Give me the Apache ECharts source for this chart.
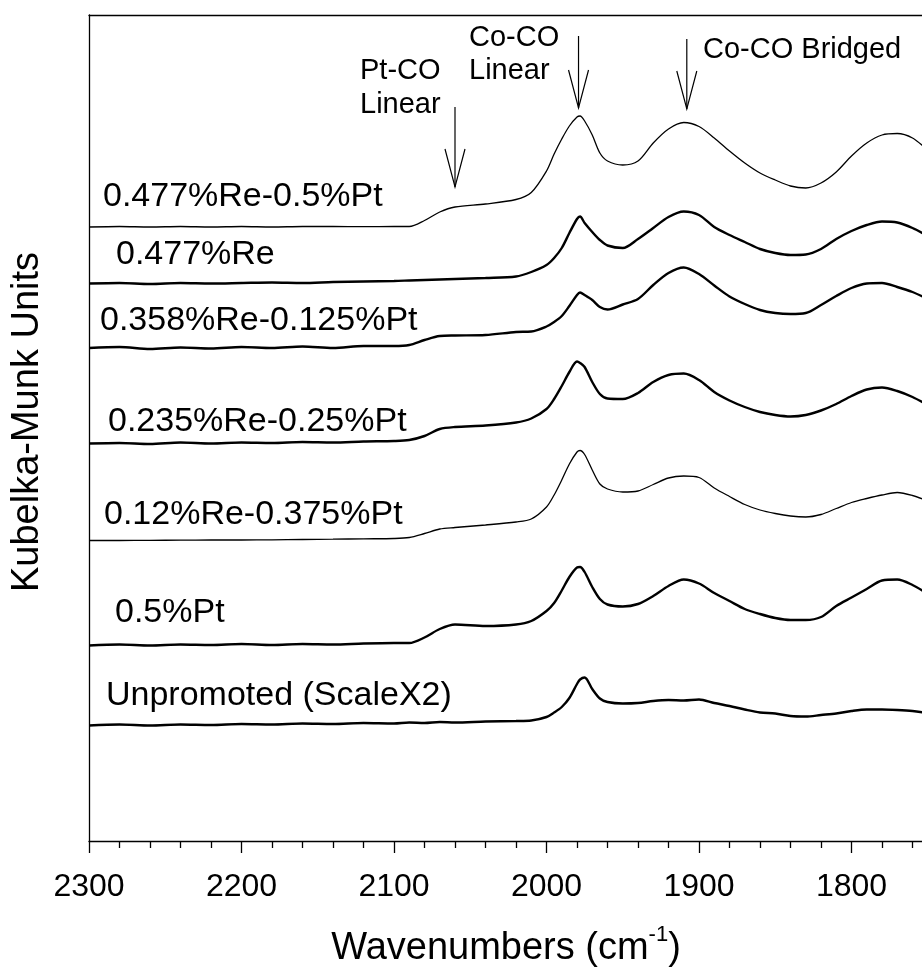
<!DOCTYPE html>
<html>
<head>
<meta charset="utf-8">
<script src="https://cdn.jsdelivr.net/npm/echarts@6/dist/echarts.min.js"></script>
<style>
  html, body { margin: 0; padding: 0; background: #fff; }
  #chart { width: 922px; height: 969px; }
</style>
</head>
<body>
<div id="chart"></div>
<script>
// Wavenumber grid (cm-1) shared by all spectra
const wavenumbers = [2300, 2280, 2260, 2240, 2220, 2200, 2180, 2160, 2140, 2120, 2100,
  2090, 2080, 2070, 2060, 2040, 2020, 2010,
  2000, 1995, 1990, 1985, 1980, 1978, 1975, 1970, 1965, 1960,
  1950, 1940, 1930, 1920, 1910, 1900, 1890, 1880, 1870, 1860, 1850, 1840, 1830, 1820,
  1810, 1800, 1790, 1780, 1770, 1760, 1750];

// Offset Kubelka-Munk spectra, top to bottom
const km_Re0477_Pt05 = [6.14, 6.145, 6.14, 6.145, 6.14, 6.145, 6.14, 6.145, 6.145, 6.143, 6.145,
  6.145, 6.205, 6.29, 6.34, 6.37, 6.415, 6.485,
  6.70, 6.87, 7.02, 7.15, 7.24, 7.25, 7.20, 7.06, 6.88, 6.80,
  6.76, 6.80, 6.98, 7.12, 7.185, 7.145, 7.03, 6.90, 6.78, 6.68, 6.61, 6.55, 6.53, 6.58,
  6.69, 6.85, 6.98, 7.06, 7.075, 7.03, 6.91];
const km_Re0477 = [5.575, 5.58, 5.57, 5.58, 5.575, 5.58, 5.585, 5.58, 5.59, 5.595, 5.60,
  5.605, 5.61, 5.615, 5.62, 5.63, 5.645, 5.69,
  5.76, 5.83, 5.93, 6.08, 6.22, 6.245, 6.18, 6.09, 6.01, 5.955,
  5.93, 6.02, 6.13, 6.24, 6.295, 6.26, 6.14, 6.06, 5.99, 5.92, 5.88, 5.86, 5.865, 5.92,
  6.02, 6.10, 6.16, 6.195, 6.185, 6.13, 6.05];
const km_Re0358_Pt0125 = [4.93, 4.94, 4.92, 4.935, 4.925, 4.94, 4.93, 4.945, 4.93, 4.95, 4.95,
  4.96, 5.01, 5.05, 5.055, 5.06, 5.09, 5.095,
  5.145, 5.19, 5.25, 5.35, 5.46, 5.485, 5.46, 5.41, 5.34, 5.315,
  5.365, 5.42, 5.56, 5.68, 5.735, 5.67, 5.555, 5.445, 5.37, 5.31, 5.28, 5.27, 5.28, 5.36,
  5.45, 5.53, 5.575, 5.58, 5.54, 5.49, 5.42];
const km_Re0235_Pt025 = [3.975, 3.98, 3.97, 3.985, 3.975, 3.985, 3.98, 3.99, 3.985, 3.995, 4.00,
  4.01, 4.05, 4.12, 4.14, 4.155, 4.185, 4.225,
  4.32, 4.42, 4.55, 4.69, 4.795, 4.78, 4.74, 4.59, 4.47, 4.425,
  4.42, 4.48, 4.59, 4.66, 4.675, 4.61, 4.49, 4.405, 4.34, 4.29, 4.26, 4.245, 4.26, 4.305,
  4.37, 4.45, 4.515, 4.535, 4.50, 4.44, 4.36];
const km_Re012_Pt0375 = [3.005, 3.005, 3.007, 3.008, 3.01, 3.01, 3.012, 3.015, 3.018, 3.022, 3.025,
  3.035, 3.075, 3.12, 3.135, 3.16, 3.19, 3.22,
  3.34, 3.46, 3.61, 3.77, 3.89, 3.905, 3.865, 3.71, 3.57, 3.52,
  3.49, 3.50, 3.565, 3.63, 3.65, 3.635, 3.53, 3.445, 3.365, 3.31, 3.275, 3.25, 3.24, 3.265,
  3.325, 3.385, 3.425, 3.46, 3.485, 3.455, 3.40];
const km_Pt05 = [1.955, 1.965, 1.955, 1.965, 1.96, 1.97, 1.96, 1.97, 1.965, 1.975, 1.98,
  1.98, 2.035, 2.12, 2.165, 2.15, 2.165, 2.20,
  2.30, 2.38, 2.505, 2.64, 2.735, 2.74, 2.69, 2.54, 2.42, 2.365,
  2.345, 2.37, 2.45, 2.55, 2.615, 2.575, 2.48, 2.40, 2.32, 2.27, 2.23, 2.21, 2.21, 2.24,
  2.35, 2.435, 2.52, 2.605, 2.615, 2.56, 2.47];
const km_Unpromoted = [1.155, 1.165, 1.155, 1.165, 1.16, 1.17, 1.165, 1.175, 1.17, 1.18, 1.175,
  1.185, 1.18, 1.19, 1.185, 1.195, 1.20, 1.205,
  1.24, 1.285, 1.34, 1.43, 1.57, 1.615, 1.635, 1.52, 1.425, 1.39,
  1.375, 1.38, 1.40, 1.41, 1.405, 1.415, 1.38, 1.35, 1.315, 1.285, 1.275, 1.25, 1.245, 1.26,
  1.275, 1.30, 1.315, 1.315, 1.31, 1.30, 1.28];

const sampleNames = ['0.477%Re-0.5%Pt', '0.477%Re', '0.358%Re-0.125%Pt', '0.235%Re-0.25%Pt',
  '0.12%Re-0.375%Pt', '0.5%Pt', 'Unpromoted (ScaleX2)'];
const spectra = [km_Re0477_Pt05, km_Re0477, km_Re0358_Pt0125, km_Re0235_Pt025,
  km_Re012_Pt0375, km_Pt05, km_Unpromoted];

// Band assignments: [wavenumber, arrow tail, arrow tip]
const bandNames = ['Pt-CO Linear', 'Co-CO Linear', 'Co-CO Bridged'];
const bandArrows = [[2060, 7.34, 6.54], [1979, 8.05, 7.33], [1908, 8.02, 7.32]];

const FONT = '"Liberation Sans", Arial, Helvetica, sans-serif';
const chart = echarts.init(document.getElementById('chart'), null, { renderer: 'canvas' });

// Thin traces vs. thick traces
const lineWidths = [1.3, 2.4, 2.4, 2.4, 1.3, 2.4, 2.4];

const lineSeries = spectra.map((vals, i) => ({
  name: sampleNames[i],
  type: 'line',
  xAxisIndex: 0,
  yAxisIndex: 0,
  data: wavenumbers.map((w, j) => [w, vals[j]]),
  showSymbol: false,
  smooth: 0.3,
  lineStyle: { color: '#000', width: lineWidths[i] },
  clip: true,
  z: 3
}));

const arrowSeries = {
  type: 'custom',
  xAxisIndex: 0,
  yAxisIndex: 0,
  data: bandArrows,
  encode: { x: 0, y: [1, 2] },
  clip: false,
  z: 4,
  renderItem: function (params, api) {
    const tail = api.coord([api.value(0), api.value(1)]);
    const tip = api.coord([api.value(0), api.value(2)]);
    const st = { stroke: '#000', lineWidth: 1.2, fill: null };
    return {
      type: 'group',
      children: [
        { type: 'line', shape: { x1: tail[0], y1: tail[1], x2: tip[0], y2: tip[1] }, style: st },
        { type: 'polyline', shape: { points: [[tip[0] - 10, tip[1] - 38], [tip[0], tip[1]], [tip[0] + 10, tip[1] - 38]] }, style: st }
      ]
    };
  }
};

// Text placement (pixels): sample labels sit above their traces
const labelAnchors = [[103, 197], [116, 255], [100, 321], [108, 422], [104, 515], [115, 613], [106, 696]];

const graphics = [];
sampleNames.forEach((name, i) => {
  graphics.push({
    type: 'text', x: labelAnchors[i][0], y: labelAnchors[i][1], z: 10,
    style: { text: name, font: '34px ' + FONT, fill: '#000', align: 'left', verticalAlign: 'middle' }
  });
});
// Band annotation text
const bandText = [
  { text: 'Pt-CO', x: 360, y: 71 }, { text: 'Linear', x: 360, y: 105 },
  { text: 'Co-CO', x: 469, y: 38 }, { text: 'Linear', x: 469, y: 71 },
  { text: 'Co-CO Bridged', x: 703, y: 50 }
];
bandText.forEach(t => graphics.push({
  type: 'text', x: t.x, y: t.y, z: 10,
  style: { text: t.text, font: '29px ' + FONT, fill: '#000', align: 'left', verticalAlign: 'middle' }
}));
// Axis titles
graphics.push({
  type: 'text', x: 28, y: 422, rotation: Math.PI / 2, z: 10,
  style: { text: 'Kubelka-Munk Units', font: '38px ' + FONT, fill: '#000', align: 'center', verticalAlign: 'middle' }
});
graphics.push({
  type: 'text', x: 506, y: 946, z: 10,
  style: {
    text: '{a|Wavenumbers (cm}{s|-1}{a|)}',
    align: 'center', verticalAlign: 'middle', fill: '#000',
    rich: {
      a: { fontSize: 38, fontFamily: FONT, fill: '#000', lineHeight: 44, verticalAlign: 'bottom' },
      s: { fontSize: 22, fontFamily: FONT, fill: '#000', lineHeight: 44, verticalAlign: 'top' }
    }
  }
});

const option = {
  animation: false,
  backgroundColor: '#fff',
  // plot area runs past the right edge of the canvas
  grid: { left: 89, width: 915, top: 15, height: 826, containLabel: false, outerBoundsMode: 'none' },
  xAxis: [{
    type: 'value', min: 1700, max: 2300, interval: 100, inverse: true,
    axisLine: { show: true, lineStyle: { color: '#000', width: 1.3 } },
    axisTick: { show: true, length: 12, lineStyle: { color: '#000', width: 1.3 } },
    minorTick: { show: true, splitNumber: 5, length: 7, lineStyle: { color: '#000', width: 1.3 } },
    axisLabel: { show: true, color: '#000', fontSize: 32, fontFamily: FONT, margin: 30,
      formatter: v => String(v) },
    splitLine: { show: false }
  }, {
    type: 'value', min: 1700, max: 2300, inverse: true, position: 'top',
    axisLine: { show: true, onZero: false, lineStyle: { color: '#000', width: 1.3 } },
    axisTick: { show: false }, axisLabel: { show: false }, splitLine: { show: false }
  }],
  yAxis: {
    type: 'value', min: 0, max: 8.26,
    axisLine: { show: true, onZero: false, lineStyle: { color: '#000', width: 1.3 } },
    axisTick: { show: false }, axisLabel: { show: false }, splitLine: { show: false }
  },
  series: lineSeries.concat([arrowSeries]),
  graphic: graphics
};
chart.setOption(option);
</script>
</body>
</html>
